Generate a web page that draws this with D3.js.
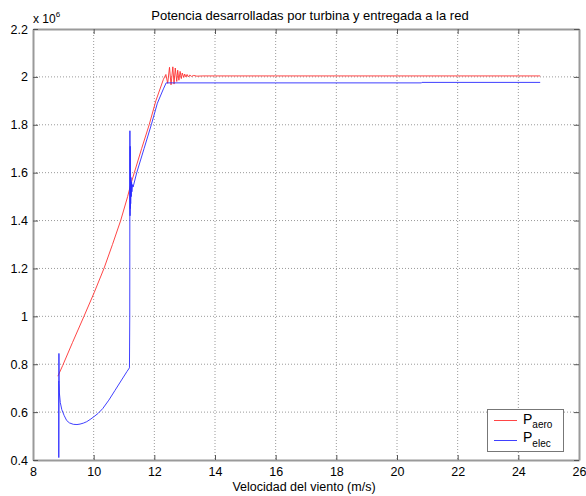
<!DOCTYPE html>
<html>
<head>
<meta charset="utf-8">
<script src="https://cdn.jsdelivr.net/npm/d3@7"></script>
<style>
  body { margin: 0; background: #fff; }
  svg { font-family: "Liberation Sans", Arial, sans-serif; }
  .grid line { stroke: #9a9a9a; stroke-dasharray: 1,2; stroke-width: 1; }
</style>
</head>
<body>
<div class="container"></div>
<script>
const xTicks = [8, 10, 12, 14, 16, 18, 20, 22, 24, 26];
const yTicks = [0.4, 0.6, 0.8, 1, 1.2, 1.4, 1.6, 1.8, 2, 2.2];

// P_aero (x 1e6 W) vs wind speed
const aeroX = [8.82, 8.98, 9.3, 9.68, 10.02, 10.34, 10.62, 10.89, 11.12, 11.2, 11.22, 11.34, 11.58, 11.83, 12.05, 12.3,
  12.38, 12.44, 12.5, 12.55, 12.61, 12.65, 12.69, 12.74, 12.77, 12.81, 12.85, 12.89, 12.92, 12.97, 13.0,
  13.04, 13.08, 13.12, 13.17, 13.22, 13.3, 13.4, 13.6, 16.0, 20.0, 24.72];
const aeroY = [0.75, 0.795, 0.89, 1.0, 1.1, 1.2, 1.3, 1.4, 1.5, 1.54, 1.55, 1.6, 1.7, 1.8, 1.9, 1.99,
  2.01, 1.973, 2.04, 1.967, 2.042, 1.97, 2.037, 1.981, 2.028, 1.986, 2.023, 1.993, 2.016, 1.998, 2.012,
  2.0, 2.01, 2.0, 2.008, 2.002, 2.006, 2.003, 2.004, 2.004, 2.004, 2.004];

// P_elec (x 1e6 W) vs wind speed
const elecX = [8.85, 8.85, 8.855, 8.86, 8.87, 8.9, 8.95, 9.03, 9.11, 9.2, 9.33, 9.45, 9.55, 9.66, 9.77, 9.88, 9.99,
  10.15, 10.3, 10.5, 10.7, 10.9, 11.1, 11.18,
  11.19, 11.195, 11.2, 11.205, 11.21, 11.215, 11.22, 11.23, 11.24, 11.25, 11.26, 11.28, 11.3,
  11.42, 11.66, 11.9, 12.1, 12.3, 12.39, 16.0, 20.8, 20.82, 24.72];
const elecY = [0.73, 0.41, 0.845, 0.72, 0.68, 0.64, 0.61, 0.585, 0.565, 0.555, 0.549, 0.548, 0.55, 0.554, 0.56, 0.569, 0.579,
  0.595, 0.615, 0.65, 0.69, 0.73, 0.77, 0.785,
  1.0, 1.775, 1.42, 1.71, 1.45, 1.6, 1.47, 1.58, 1.5, 1.56, 1.52, 1.55, 1.54,
  1.6, 1.7, 1.8, 1.89, 1.95, 1.975, 1.975, 1.975, 1.977, 1.977];

const width = 586, height = 496;
const margin = { left: 33, top: 29, right: 579, bottom: 460 };

const svg = d3.select(".container").append("svg")
  .attr("width", width)
  .attr("height", height);

const x = d3.scaleLinear().domain([8, 26]).range([margin.left, margin.right]);
const y = d3.scaleLinear().domain([0.4, 2.2]).range([margin.bottom, margin.top]);

// grid
const grid = svg.append("g").attr("class", "grid");
grid.selectAll(".gx").data(xTicks.slice(1, -1)).join("line")
  .attr("x1", d => x(d)).attr("x2", d => x(d))
  .attr("y1", margin.top).attr("y2", margin.bottom);
grid.selectAll(".gy").data(yTicks.slice(1, -1)).join("line")
  .attr("y1", d => y(d)).attr("y2", d => y(d))
  .attr("x1", margin.left).attr("x2", margin.right);

// lines
const lineGen = d3.line().x(d => x(d[0])).y(d => y(d[1]));
svg.append("path")
  .datum(aeroX.map((v, i) => [v, aeroY[i]]))
  .attr("d", lineGen)
  .attr("fill", "none").attr("stroke", "#ff3030").attr("stroke-width", 0.9);
svg.append("path")
  .datum(elecX.map((v, i) => [v, elecY[i]]))
  .attr("d", lineGen)
  .attr("fill", "none").attr("stroke", "#2a2aff").attr("stroke-width", 0.9);

// axes (box with inward ticks)
const fmt = d => d3.format("")(+d.toFixed(1));
svg.append("g").attr("transform", `translate(0,${margin.bottom})`)
  .call(d3.axisBottom(x).tickValues(xTicks).tickSizeInner(-5).tickSizeOuter(0).tickPadding(7).tickFormat(fmt));
svg.append("g").attr("transform", `translate(0,${margin.top})`)
  .call(d3.axisTop(x).tickValues(xTicks).tickSizeInner(-5).tickSizeOuter(0).tickFormat(""));
svg.append("g").attr("transform", `translate(${margin.left},0)`)
  .call(d3.axisLeft(y).tickValues(yTicks).tickSizeInner(-5).tickSizeOuter(0).tickPadding(5).tickFormat(fmt));
svg.append("g").attr("transform", `translate(${margin.right},0)`)
  .call(d3.axisRight(y).tickValues(yTicks).tickSizeInner(-5).tickSizeOuter(0).tickFormat(""));

svg.selectAll(".domain").attr("stroke", "#9a9a9a").attr("stroke-width", 2);
svg.selectAll(".tick line").attr("stroke", "#555");
svg.selectAll(".tick text").attr("font-size", 12.5).attr("fill", "#000")
  .attr("font-family", "'Liberation Sans', Arial, sans-serif");

// exponent label
const expo = svg.append("text").attr("x", 33).attr("y", 23).attr("font-size", 12);
expo.append("tspan").text("x 10");
expo.append("tspan").attr("dy", -6).attr("font-size", 8).text("6");

// title and x label
svg.append("text").attr("x", 310).attr("y", 20).attr("text-anchor", "middle")
  .attr("font-size", 13).text("Potencia desarrolladas por turbina y entregada a la red");
svg.append("text").attr("x", 304).attr("y", 491).attr("text-anchor", "middle")
  .attr("font-size", 12.5).text("Velocidad del viento (m/s)");

// legend
const legend = svg.append("g");
legend.append("rect").attr("x", 487.5).attr("y", 409.5).attr("width", 76).attr("height", 42)
  .attr("fill", "#fff").attr("stroke", "#777").attr("stroke-width", 1);
const entries = [
  { sub: "aero", color: "#ff3030", ly: 420.5, ty: 423.5 },
  { sub: "elec", color: "#2a2aff", ly: 440.5, ty: 442 }
];
entries.forEach(e => {
  legend.append("line").attr("x1", 494).attr("x2", 517).attr("y1", e.ly).attr("y2", e.ly)
    .attr("stroke", e.color).attr("stroke-width", 0.9);
  const t = legend.append("text").attr("x", 523).attr("y", e.ty).attr("font-size", 14);
  t.append("tspan").text("P");
  t.append("tspan").attr("dy", 4.5).attr("font-size", 10).text(e.sub);
});
</script>
</body>
</html>
